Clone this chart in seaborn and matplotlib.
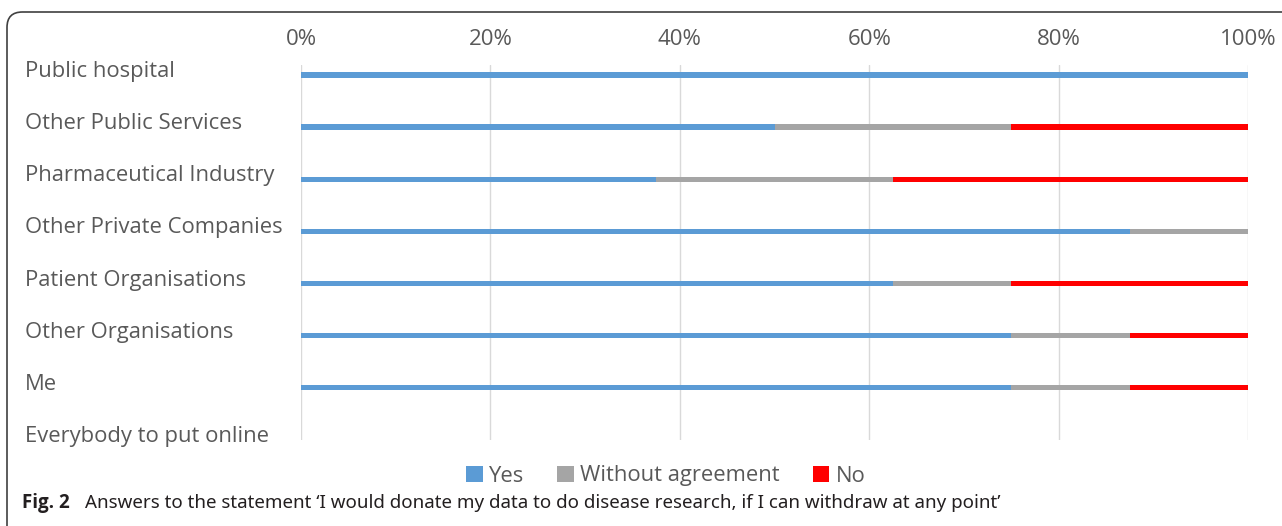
import numpy as np
import pandas as pd
import seaborn as sns
import matplotlib.pyplot as plt
from matplotlib.patches import FancyBboxPatch, Patch
from matplotlib.transforms import ScaledTranslation

# ---------------------------------------------------------------------
# Data (percent of answers per recipient)
# ---------------------------------------------------------------------
CATEGORIES = [
    "Public hospital",
    "Other Public Services",
    "Pharmaceutical Industry",
    "Other Private Companies",
    "Patient Organisations",
    "Other Organisations",
    "Me",
    "Everybody to put online",
]
YES = [100, 50, 37.5, 87.5, 62.5, 75, 75, 0]
WITHOUT_AGREEMENT = [0, 25, 25, 12.5, 12.5, 12.5, 12.5, 0]
NO = [0, 25, 37.5, 0, 25, 12.5, 12.5, 0]
X_TICKS = [0, 20, 40, 60, 80, 100]

SERIES = ["Yes", "Without agreement", "No"]
COLORS = {"Yes": "#5B9BD5", "Without agreement": "#A5A5A5", "No": "#FF0000"}
TEXT_GREY = "#595959"

sns.set_theme(style="white")
plt.rcParams["font.family"] = ["Open Sans", "DejaVu Sans"]

df = pd.DataFrame({
    "category": CATEGORIES,
    "Yes": YES,
    "Without agreement": WITHOUT_AGREEMENT,
    "No": NO,
})
# cumulative ends so the stacks can be drawn as overlapping bars
df["end_yes"] = df["Yes"]
df["end_wa"] = df["end_yes"] + df["Without agreement"]
df["end_no"] = df["end_wa"] + df["No"]

W, H = 1282, 526
fig = plt.figure(figsize=(W / 100, H / 100), dpi=100)
ax = fig.add_axes([301 / W, 1 - 440 / H, (1248 - 301) / W, (440 - 65) / H])

for col, name in [("end_no", "No"), ("end_wa", "Without agreement"), ("end_yes", "Yes")]:
    sns.barplot(
        data=df, x=col, y="category", order=CATEGORIES,
        color=COLORS[name], saturation=1, width=0.1, orient="h",
        linewidth=0, ax=ax,
    )

ax.set_xlim(0, 100)
ax.set_ylim(7.0, -0.19)
ax.set_xticks(X_TICKS)
ax.set_xticklabels([f"{t}%" for t in X_TICKS])
ax.xaxis.tick_top()
ax.tick_params(axis="x", length=0, pad=11, labelsize=16, labelcolor=TEXT_GREY)
ax.tick_params(axis="y", length=0, pad=(301 - 25) * 0.72, labelsize=15.8, labelcolor=TEXT_GREY)
for lab in ax.get_yticklabels():
    lab.set_horizontalalignment("left")
    lab.set_transform(lab.get_transform() + ScaledTranslation(0, 6 / 100, fig.dpi_scale_trans))
ax.set_xlabel("")
ax.set_ylabel("")
ax.xaxis.grid(True, color="#D9D9D9", linewidth=1)
ax.set_axisbelow(True)
for s in ax.spines.values():
    s.set_visible(False)

handles = [Patch(facecolor=COLORS[s], edgecolor="none") for s in SERIES]
fig.legend(
    handles, SERIES, loc="center", bbox_to_anchor=(666 / W, 1 - 476 / H),
    ncol=3, frameon=False, fontsize=15.8, handlelength=0.75, handleheight=0.75,
    handletextpad=0.3, columnspacing=1.5, labelcolor=TEXT_GREY,
)

# caption
fig.text(22 / W, 1 - 503 / H, "Fig. 2", fontsize=13.5, fontweight="bold",
         color="#231F20", va="center", ha="left", family=["Open Sans", "DejaVu Sans"])
fig.text(85 / W, 1 - 503 / H,
         "Answers to the statement \u2018I would donate my data to do disease research, "
         "if I can withdraw at any point\u2019",
         fontsize=13.5, color="#231F20", va="center", ha="left",
         family=["Noto Sans", "DejaVu Sans"])

# frame around the figure (clipped on the right and bottom)
frame = FancyBboxPatch(
    (7 / W, -0.05), 1.2, 1 - 12 / H + 0.05,
    boxstyle="round,pad=0,rounding_size=0.012",
    transform=fig.transFigure, facecolor="none", edgecolor="#404040",
    linewidth=1.2, mutation_aspect=W / H,
)
fig.add_artist(frame)

fig.savefig("out.png", dpi=100)
